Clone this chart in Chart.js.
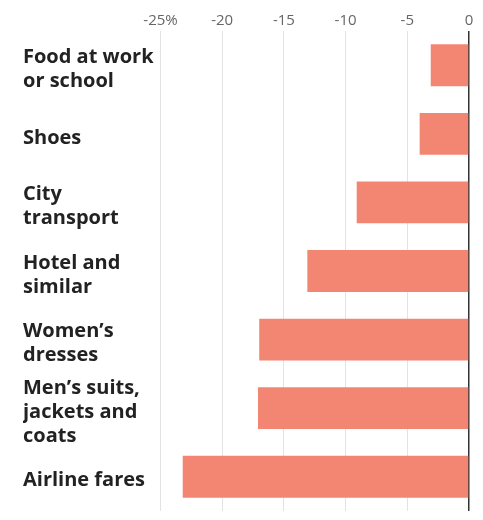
<!DOCTYPE html>
<html>
<head>
<meta charset="utf-8">
<script src="https://cdn.jsdelivr.net/npm/chart.js@4"></script>
<style>
	html, body { margin:0; padding:0; background:#fff; }
	#wrap { width:483px; height:520px; position:relative; }
</style>
</head>
<body>
<div id="wrap"><canvas id="priceChart"></canvas></div>
<script>
	const categories = [
		['Food at work', 'or school'],
		['Shoes'],
		['City', 'transport'],
		['Hotel and', 'similar'],
		['Women’s', 'dresses'],
		['Men’s suits,', 'jackets and', 'coats'],
		['Airline fares']
	];
	const changePct = [-3.1, -4.0, -9.1, -13.1, -17.0, -17.1, -23.2];
	const xTickValues = [-25, -20, -15, -10, -5, 0];
	const xTickLabels = ['-25%', '-20', '-15', '-10', '-5', '0'];

	new Chart(document.getElementById('priceChart'), {
		type: 'bar',
		data: {
			labels: categories,
			datasets: [{
				data: changePct,
				backgroundColor: '#f38673',
				borderWidth: 0,
				barPercentage: 0.61,
				categoryPercentage: 1
			}]
		},
		options: {
			indexAxis: 'y',
			responsive: true,
			maintainAspectRatio: false,
			animation: false,
			devicePixelRatio: 1,
			layout: { padding: { left: 23, right: 14, top: 0, bottom: 9 } },
			plugins: { legend: { display: false }, tooltip: { enabled: false } },
			scales: {
				x: {
					position: 'top',
					min: -25,
					max: 0,
					afterBuildTicks: s => { s.ticks = xTickValues.map(v => ({ value: v })); },
					afterFit: s => { s.height = 31; s.paddingLeft = 0; s.paddingRight = 0; },
					border: { display: false },
					grid: {
						drawTicks: false,
						color: c => c.tick && c.tick.value === 0 ? '#333' : '#e3e3e3',
						lineWidth: c => c.tick && c.tick.value === 0 ? 1.5 : 1
					},
					ticks: {
						autoSkip: false,
						maxRotation: 0,
						padding: 1,
						color: '#666',
						font: { family: 'Open Sans', size: 15 },
						callback: (v, i) => xTickLabels[i]
					}
				},
				y: {
					afterFit: s => { s.width = 137.5; s.paddingTop = 0; s.paddingBottom = 0; },
					border: { display: false },
					grid: { display: false, drawTicks: false },
					ticks: {
						autoSkip: false,
						crossAlign: 'far',
						padding: 0,
						labelOffset: 4,
						color: '#222',
						font: { family: 'Open Sans', size: 20, weight: 700, lineHeight: 1.2 }
					}
				}
			}
		}
	});
</script>
</body>
</html>
